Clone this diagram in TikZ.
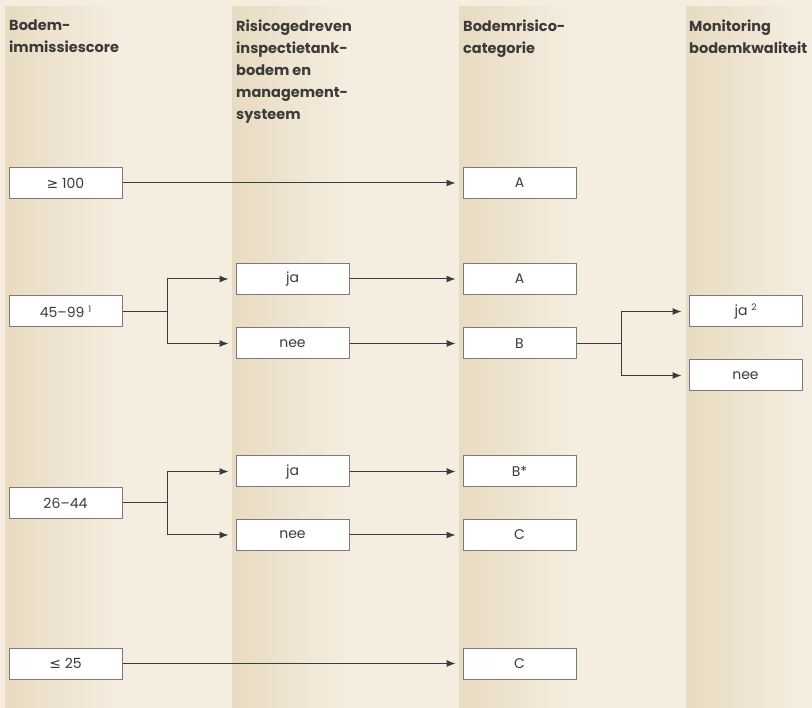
\documentclass[tikz,border=0pt]{standalone}
\usepackage{fontspec}
\setmainfont{Poppins}
\newfontfamily\signfont{DejaVu Sans}
\usetikzlibrary{arrows.meta}

\definecolor{bgcol}{HTML}{F5EDE0}
\definecolor{bandcol}{HTML}{E8DBC1}
\definecolor{inkcol}{HTML}{3B3B3B}
\definecolor{framecol}{HTML}{7A7A7A}

\begin{document}
\begin{tikzpicture}[x=1pt, y=-1pt]
    \tikzset{
      box/.style={draw=framecol, fill=white, line width=1pt, minimum width=113pt, minimum height=31pt, inner sep=0pt, text=inkcol, font=\fontsize{14}{16}\selectfont},
      head/.style={anchor=north west, inner sep=0pt, align=left, text=inkcol, font=\bfseries\fontsize{14.5}{22}\selectfont},
      link/.style={-{Latex[length=9pt, width=7pt]}, line width=1pt, draw=inkcol, shorten >=7pt},
      wire/.style={line width=1pt, draw=inkcol}
    }
    \useasboundingbox (0,0) rectangle (812,708);
    \fill[bgcol] (0,0) rectangle (812,708);
    \foreach \bx in {5,232,459,686} {
        \shade[left color=bandcol, right color=bgcol] (\bx,7) rectangle ++(115,701);
      }

    \node[head] (hscore) at (9,20) {Bodem-\\immissiescore};
    \node[head] (hinspect) at (236,20) {Risicogedreven\\inspectietank-\\bodem en\\management-\\systeem};
    \node[head] (hcategory) at (463,20) {Bodemrisico-\\categorie};
    \node[head] (hmonitor) at (689,20) {Monitoring\\bodemkwaliteit};

    \node[box] (score100) at (65.5,183) {{\signfont ≥} 100};
    \node[box] (score45) at (65.5,311.5) {45--99 \raisebox{0.6ex}{\fontsize{9}{10}\selectfont 1}};
    \node[box] (score26) at (65.5,503) {26--44};
    \node[box] (score25) at (65.5,663.5) {{\signfont ≤} 25};

    \node[box] (inspectja) at (292.5,279) {ja};
    \node[box] (inspectnee) at (292.5,343.5) {nee};
    \node[box] (inspectjab) at (292.5,471.5) {ja};
    \node[box] (inspectneeb) at (292.5,535) {nee};

    \node[box] (catA) at (519.5,183) {A};
    \node[box] (catAb) at (519.5,279) {A};
    \node[box] (catB) at (519.5,343.5) {B};
    \node[box] (catBstar) at (519.5,471.5) {B*};
    \node[box] (catC) at (519.5,535) {C};
    \node[box] (catCb) at (519.5,663.5) {C};

    \node[box] (monja) at (745.5,311.5) {ja \raisebox{0.6ex}{\fontsize{9}{10}\selectfont 2}};
    \node[box] (monnee) at (745.5,375.5) {nee};

    \coordinate (split45) at ([xshift=45pt]score45.east);
    \coordinate (split26) at ([xshift=45pt]score26.east);
    \coordinate (splitB) at ([xshift=45pt]catB.east);

    \draw[link] (score100.east) -- (catA.west);
    \draw[wire] (score45.east) -- (split45);
    \draw[link] (split45) |- (inspectja.west);
    \draw[link] (split45) |- (inspectnee.west);
    \draw[link] (inspectja.east) -- (catAb.west);
    \draw[link] (inspectnee.east) -- (catB.west);
    \draw[wire] (catB.east) -- (splitB);
    \draw[link] (splitB) |- (monja.west);
    \draw[link] (splitB) |- (monnee.west);
    \draw[wire] (score26.east) -- (split26);
    \draw[link] (split26) |- (inspectjab.west);
    \draw[link] (split26) |- (inspectneeb.west);
    \draw[link] (inspectjab.east) -- (catBstar.west);
    \draw[link] (inspectneeb.east) -- (catC.west);
    \draw[link] (score25.east) -- (catCb.west);
  \end{tikzpicture}
\end{document}
